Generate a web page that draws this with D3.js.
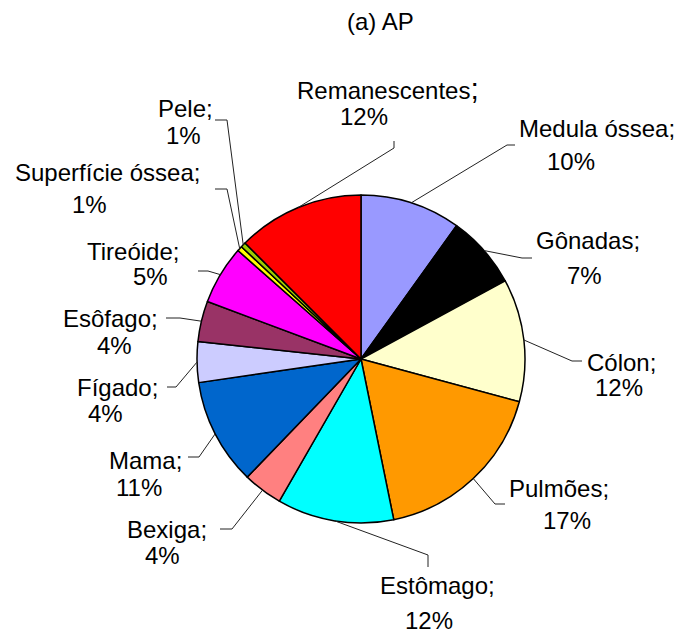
<!DOCTYPE html>
<html>
<head>
<meta charset="utf-8">
<script src="https://cdn.jsdelivr.net/npm/d3@7"></script>
<style>
  body { margin: 0; background: #fff; }
  text { font-family: "Liberation Sans", Arial, sans-serif; font-size: 24px; fill: #000; }
</style>
</head>
<body>
<svg id="chart" width="678" height="636"></svg>
<script>
// data, clockwise from 12 o'clock
const organs = ["Medula óssea", "Gônadas", "Cólon", "Pulmões", "Estômago", "Bexiga", "Mama",
                "Fígado", "Esôfago", "Tireóide", "Superfície óssea", "Pele", "Remanescentes"];
const shares = [9.9, 7.2, 12.1, 17.6, 11.5, 3.9, 10.5, 4.0, 4.0, 5.8, 0.5, 0.5, 12.5];
const pctLabels = ["10%", "7%", "12%", "17%", "12%", "4%", "11%", "4%", "4%", "5%", "1%", "1%", "12%"];
const colors = ["#9999ff", "#000000", "#ffffcc", "#ff9900", "#00ffff", "#ff8080", "#0066cc",
                "#ccccff", "#993366", "#ff00ff", "#ffff00", "#99cc00", "#ff0000"];

// label layout: [line1 x, line1 baseline, line2 x, line2 baseline]
const labelPos = [
  [519, 137, 547, 170], [536, 249, 567, 284], [587, 371, 595, 396], [509, 497, 543, 529],
  [380, 594, 405, 629], [127, 538, 145, 564], [109, 469, 116, 496], [77, 396, 88, 422],
  [63, 327, 97, 354], [87, 260, 133, 285], [15, 181, 72, 213], [158, 117, 166, 144],
  [297, 99, 340, 125]
];
// leader line bends after leaving the pie edge
const leaderPts = [
  [[507, 145], [515, 145]], [[522, 258], [532, 258]], [[572, 361], [582, 361]], [[495, 504], [505, 504]],
  [[428, 555], [428, 567]], [[232, 529], [220, 529]], [[199, 457], [188, 457]], [[176, 387], [167, 387]],
  [[180, 318], [166, 318]], [[208, 271], [198, 271]], [[227, 189], [215, 189]], [[227, 120], [215, 120]],
  [[394, 148], [394, 141]]
];

const svg = d3.select("#chart");
const cx = 361, cy = 359, r = 164;

svg.append("text")
    .attr("x", 347)
    .attr("y", 30)
    .text("(a) AP");

const pie = d3.pie().sort(null).value(d => d);
const arcs = pie(shares);
const arc = d3.arc().innerRadius(0).outerRadius(r);
const edge = d3.arc().innerRadius(r).outerRadius(r);

const g = svg.append("g").attr("transform", `translate(${cx},${cy})`);

g.selectAll("path")
    .data(arcs)
    .enter().append("path")
    .attr("d", arc)
    .attr("fill", (d, i) => colors[i])
    .attr("stroke", "#000")
    .attr("stroke-width", 1.5)
    .attr("stroke-linejoin", "round");

// leader lines
const line = d3.line();
svg.append("g")
    .selectAll("path")
    .data(arcs)
    .enter().append("path")
    .attr("d", (d, i) => {
        const c = edge.centroid(d);
        return line([[c[0] + cx, c[1] + cy]].concat(leaderPts[i]));
    })
    .attr("fill", "none")
    .attr("stroke", "#222")
    .attr("stroke-width", 1);

// labels
const lab = svg.append("g");
organs.forEach((name, i) => {
    const p = labelPos[i];
    const t = lab.append("text")
        .attr("x", p[0])
        .attr("y", p[1])
        .text(name);
    // the semicolon after "Remanescentes" is drawn larger in the original
    t.append("tspan")
        .style("font-size", name === "Remanescentes" ? "30px" : null)
        .text(";");
    lab.append("text")
        .attr("x", p[2])
        .attr("y", p[3])
        .text(pctLabels[i]);
});
</script>
</body>
</html>
